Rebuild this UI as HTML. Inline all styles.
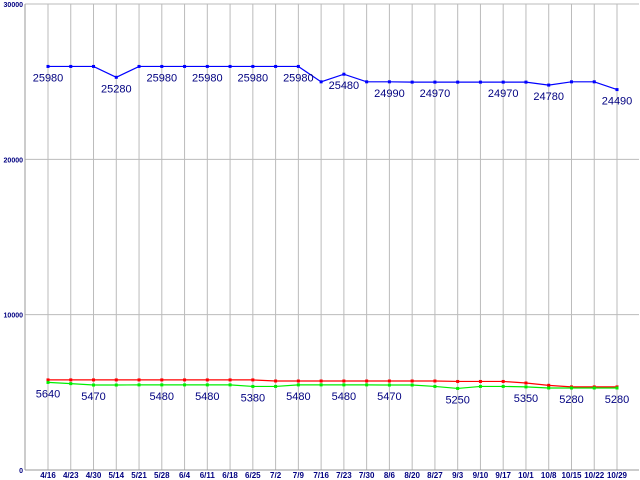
<!DOCTYPE html>
<html><head><meta charset="utf-8"><style>
body{margin:0;background:#fff}
svg{display:block;font-family:"Liberation Sans",sans-serif}
</style></head><body>
<svg id="chart" width="640" height="480" viewBox="0 0 640 480"></svg>
<script>
const dates=["4/16","4/23","4/30","5/14","5/21","5/28","6/4","6/11","6/18","6/25","7/2","7/9","7/16","7/23","7/30","8/6","8/20","8/27","9/3","9/10","9/17","10/1","10/8","10/15","10/22","10/29"];
const blueValues=[25980,25980,25980,25280,25980,25980,25980,25980,25980,25980,25980,25980,24990,25480,24990,24990,24970,24970,24970,24970,24970,24970,24780,24990,24990,24490];
const redValues=[5800,5800,5800,5800,5800,5800,5800,5800,5800,5800,5730,5730,5730,5730,5730,5730,5730,5730,5700,5700,5700,5600,5450,5350,5350,5350];
const greenValues=[5640,5560,5470,5470,5480,5480,5480,5480,5480,5380,5380,5480,5480,5480,5480,5470,5470,5380,5250,5380,5380,5350,5280,5280,5280,5280];
const blueLabelIdx=[0,3,5,7,9,11,13,15,17,20,22,25];
const greenLabelIdx=[0,2,5,7,9,11,13,15,18,21,23,25];
const yTicks=[0,10000,20000,30000];
const NS="http://www.w3.org/2000/svg";
const svg=document.getElementById('chart');
const L=25,R=639,T=4,B=470,YMAX=30000;
const x=i=>48+i*(617-48)/(dates.length-1);
const y=v=>B-(v/YMAX)*(B-T);
function mk(tag,attrs,parent){const e=document.createElementNS(NS,tag);for(const k in attrs)e.setAttribute(k,attrs[k]);(parent||svg).appendChild(e);return e;}
yTicks.forEach(t=>{
 const l=mk('line',{x1:L,x2:R,y1:y(t),y2:y(t),stroke:'#bbb','stroke-width':1});
 
 
 const tx=mk('text',{x:L-2,y:y(t)+3,'text-anchor':'end','font-size':7,'font-weight':'bold',fill:'#000080'});
 tx.textContent=t;
 
 
});
dates.forEach((d,i)=>{
 const l=mk('line',{x1:x(i),x2:x(i),y1:T,y2:B,stroke:'#bbb','stroke-width':1});
 
 
 const tx=mk('text',{x:x(i),y:478,'text-anchor':'middle','font-size':8,'font-weight':'bold',fill:'#000080'});
 tx.textContent=d;
 
 
});
const ax=mk('line',{x1:L,x2:L,y1:T,y2:B,stroke:'#999','stroke-width':1});


const bx=mk('line',{x1:L,x2:R,y1:B,y2:B,stroke:'#999','stroke-width':1});


function series(vals,color,name){
 const pl=mk('polyline',{points:vals.map((v,i)=>x(i)+','+y(v)).join(' '),fill:'none',stroke:color,'stroke-width':1.2});
 
 
 vals.forEach((v,i)=>{
  const p=mk('rect',{x:x(i)-1.5,y:y(v)-1.5,width:3,height:3,fill:color});
  
  
 });
}
series(redValues,'#ff0000','red-series');
series(greenValues,'#00ee00','green-series');
series(blueValues,'#0000ff','blue-series');
function labels(vals,idx,name){
 idx.forEach(i=>{
  const t=mk('text',{x:x(i),y:y(vals[i])+15,'text-anchor':'middle','font-size':11,fill:'#000080'});
  t.textContent=vals[i];
  
  
 });
}
labels(blueValues,blueLabelIdx,'blue');
labels(greenValues,greenLabelIdx,'green');
</script>
</body></html>
